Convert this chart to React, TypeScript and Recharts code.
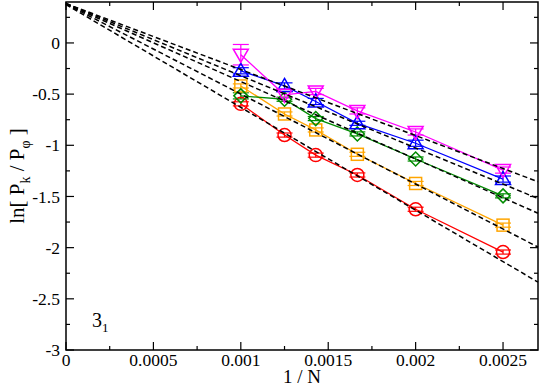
import React from "react";
import { ComposedChart, Scatter, XAxis, YAxis, ErrorBar, ReferenceArea } from "recharts";

// chain lengths N, plotted as 1/N
const nValues = [1000, 800, 700, 600, 500, 400];

const redY = [-0.595, -0.9, -1.096, -1.29, -1.625, -2.043];
const redErr = [0.02, 0.02, 0.02, 0.02, 0.02, 0.02];
const orangeY = [-0.42, -0.694, -0.85, -1.088, -1.373, -1.78];
const orangeErr = [0.02, 0.02, 0.02, 0.02, 0.02, 0.02];
const greenY = [-0.517, -0.55, -0.739, -0.889, -1.134, -1.494];
const greenErr = [0.03, 0.02, 0.02, 0.02, 0.02, 0.02];
const blueY = [-0.272, -0.42, -0.572, -0.785, -0.98, -1.33];
const blueErr = [0.03, 0.03, 0.03, 0.02, 0.03, 0.03];
const magentaY = [-0.115, -0.507, -0.474, -0.664, -0.87, -1.242];
const magentaErr = [0.1, 0.03, 0.03, 0.03, 0.03, 0.03];

// dashed fits: value at 1/N = 0 and at the right edge 1/N = 0.0027
const fitX = [0, 0.0027];
const fitStart = [0.385, 0.385, 0.38, 0.38, 0.375];
const fitEnd = [-1.356, -1.52, -1.664, -1.994, -2.337];

const xMajor = [0, 0.0005, 0.001, 0.0015, 0.002, 0.0025];
const xMinor = [0.00025, 0.00075, 0.00125, 0.00175, 0.00225];
const yMajor = [0, -0.5, -1, -1.5, -2, -2.5, -3];
const yMinor = [0.25, -0.25, -0.75, -1.25, -1.75, -2.25, -2.75];

const PLOT_LEFT = 66;
const PLOT_RIGHT = 538;
const PLOT_TOP = 2;
const PLOT_BOTTOM = 350;
const FONT = "Liberation Serif, serif";

const isMajor = (v: number, majors: number[]) => majors.some((m) => Math.abs(m - v) < 1e-9);

const toRows = (ys: number[], errs: number[]) =>
  nValues.map((n, i) => ({ x: 1 / n, y: ys[i], err: errs[i] }));

const series = [
  { name: "red", color: "#ff0000", kind: "circle", rows: toRows(redY, redErr) },
  { name: "orange", color: "#ffa500", kind: "square", rows: toRows(orangeY, orangeErr) },
  { name: "green", color: "#008b00", kind: "diamond", rows: toRows(greenY, greenErr) },
  { name: "blue", color: "#0000ff", kind: "up", rows: toRows(blueY, blueErr) },
  { name: "magenta", color: "#ff00ff", kind: "down", rows: toRows(magentaY, magentaErr) },
];

const fits = fitStart.map((s, i) => [
  { x: fitX[0], y: s },
  { x: fitX[1], y: fitEnd[i] },
]);

const makeShape = (kind: string, color: string) => (p: any) => {
  const { cx, cy } = p;
  const common = { fill: "none", stroke: color, strokeWidth: 1.5 };
  if (kind === "circle") return <circle cx={cx} cy={cy} r={6.5} {...common} />;
  if (kind === "square") return <rect x={cx - 6} y={cy - 6} width={12} height={12} {...common} />;
  if (kind === "diamond")
    return <polygon points={`${cx},${cy - 7} ${cx + 7},${cy} ${cx},${cy + 7} ${cx - 7},${cy}`} {...common} />;
  if (kind === "up")
    return <polygon points={`${cx},${cy - 7.5} ${cx + 7.5},${cy + 5.5} ${cx - 7.5},${cy + 5.5}`} {...common} />;
  return <polygon points={`${cx},${cy + 7.5} ${cx + 7.5},${cy - 5.5} ${cx - 7.5},${cy - 5.5}`} {...common} />;
};

const XTick = (props: any) => {
  const { x, y, payload } = props;
  const major = isMajor(payload.value, xMajor);
  const len = major ? 8 : 4;
  const axisY = y - 3;
  return (
    <g>
      <line x1={x} x2={x} y1={axisY} y2={axisY - len} stroke="#000" strokeWidth={1.2} />
      <line x1={x} x2={x} y1={PLOT_TOP} y2={PLOT_TOP + len} stroke="#000" strokeWidth={1.2} />
      {major && (
        <text x={x} y={y} dy="0.72em" textAnchor="middle" fontFamily={FONT} fontSize={17.5} fill="#000">
          {String(payload.value)}
        </text>
      )}
    </g>
  );
};

const YTick = (props: any) => {
  const { x, y, payload } = props;
  const major = isMajor(payload.value, yMajor);
  const len = major ? 8 : 4;
  return (
    <g>
      <line x1={PLOT_LEFT} x2={PLOT_LEFT + len} y1={y} y2={y} stroke="#000" strokeWidth={1.2} />
      <line x1={PLOT_RIGHT - len} x2={PLOT_RIGHT} y1={y} y2={y} stroke="#000" strokeWidth={1.2} />
      {major && (
        <text x={x} y={y} dy="0.35em" textAnchor="end" fontFamily={FONT} fontSize={17.5} fill="#000">
          {String(payload.value)}
        </text>
      )}
    </g>
  );
};

export default function App() {
  return (
    <div
      style={{ position: "absolute", left: 0, top: 0, width: 540, height: 387, background: "#fff", fontFamily: FONT }}
    >
      <ComposedChart width={540} height={387} margin={{ top: PLOT_TOP, right: 540 - PLOT_RIGHT, left: 0, bottom: 0 }}>
        <XAxis
          type="number"
          dataKey="x"
          domain={[0, 0.0027]}
          ticks={[...xMajor, ...xMinor]}
          interval={0}
          axisLine={false}
          tickLine={false}
          tickSize={0}
          tickMargin={3}
          tick={<XTick />}
          height={387 - PLOT_BOTTOM}
        />
        <YAxis
          type="number"
          dataKey="y"
          domain={[-3, 0.4]}
          ticks={[...yMajor, ...yMinor]}
          interval={0}
          axisLine={false}
          tickLine={false}
          tickSize={0}
          tickMargin={6}
          tick={<YTick />}
          width={PLOT_LEFT}
        />
        {series.map((s) => (
          <Scatter
            key={s.name}
            data={s.rows}
            dataKey="y"
            line={{ stroke: s.color, strokeWidth: 1.3 }}
            shape={makeShape(s.kind, s.color)}
            isAnimationActive={false}
          >
            <ErrorBar dataKey="err" direction="y" width={8} stroke={s.color} strokeWidth={1.2} />
          </Scatter>
        ))}
        {fits.map((f, i) => (
          <Scatter
            key={"fit" + i}
            data={f}
            dataKey="y"
            line={{ stroke: "#000", strokeWidth: 1.5, strokeDasharray: "5 3" }}
            shape={() => <g />}
            isAnimationActive={false}
          />
        ))}
        <ReferenceArea x1={0} x2={0.0027} y1={-3} y2={0.4} fill="none" stroke="#000" strokeWidth={1.5} />
      </ComposedChart>
      <div
        style={{
          position: "absolute",
          left: 20,
          top: 176,
          transform: "translate(-50%, -50%) rotate(-90deg)",
          whiteSpace: "nowrap",
          fontSize: 21,
          lineHeight: 1,
        }}
      >
        ln[ P<sub style={{ fontSize: 14 }}>k</sub> / P<sub style={{ fontSize: 14 }}>φ</sub> ]
      </div>
      <div
        style={{
          position: "absolute",
          left: 302,
          top: 367,
          transform: "translateX(-50%)",
          whiteSpace: "nowrap",
          fontSize: 19,
          lineHeight: 1,
        }}
      >
        1 / N
      </div>
      <div style={{ position: "absolute", left: 92, top: 310, fontSize: 20, lineHeight: 1 }}>
        3<sub style={{ fontSize: 13 }}>1</sub>
      </div>
    </div>
  );
}
